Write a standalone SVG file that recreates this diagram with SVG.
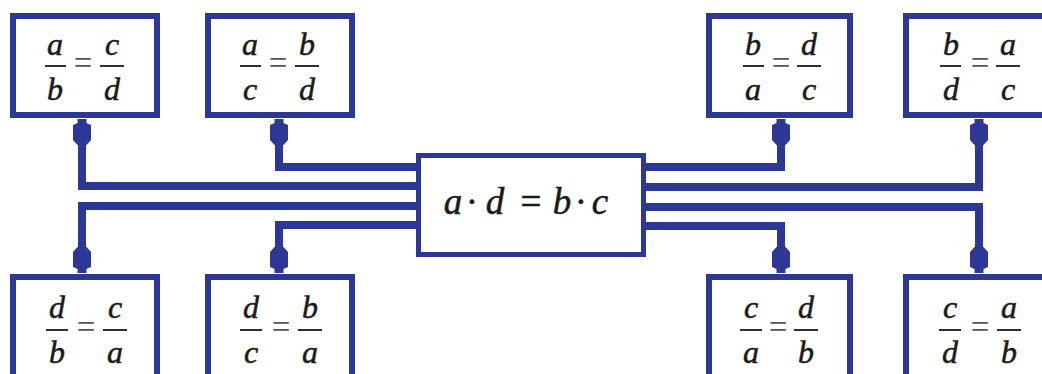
<svg xmlns="http://www.w3.org/2000/svg" width="1042" height="374" viewBox="0 0 1042 374">
<style>
.box{fill:#fff;stroke:#2d3894;stroke-width:6}
.cbox{fill:#fff;stroke:#2d3894;stroke-width:5}
.v{font-family:"Liberation Serif","Times New Roman",serif;font-style:italic;font-size:32px;fill:#1a1a1a;text-anchor:middle;stroke:#1a1a1a;stroke-width:0.5}
.eq{font-family:"Liberation Serif","Times New Roman",serif;font-size:33px;fill:#555;text-anchor:middle}
.bar{stroke:#1a1a1a;stroke-width:1.8}
.big{font-family:"Liberation Serif","Times New Roman",serif;font-style:italic;font-size:37px;fill:#1a1a1a;text-anchor:middle;stroke:#1a1a1a;stroke-width:0.5}
.dot{font-style:normal}
.conn{fill:none;stroke:#2d3894;stroke-width:8;stroke-linejoin:miter}
</style>
<defs>
<marker id="ah" viewBox="-30 -11 31 22" refX="0" refY="0" markerWidth="31" markerHeight="22" markerUnits="userSpaceOnUse" orient="auto">
<path d="M0,-4.5 L-4,-4.5 L-6,-9 L-21,-9 L-26,-4.5 L-26,4.5 L-21,9 L-6,9 L-4,4.5 L0,4.5 Z" fill="#2d3894"/>
</marker>
</defs>
<g id="connectors">
<path class="conn" d="M420,186 H82 V119" marker-end="url(#ah)"/>
<path class="conn" d="M420,167 H279 V119" marker-end="url(#ah)"/>
<path class="conn" d="M420,206 H82 V273" marker-end="url(#ah)"/>
<path class="conn" d="M420,225 H279 V273" marker-end="url(#ah)"/>
<path class="conn" d="M642,167 H781 V119" marker-end="url(#ah)"/>
<path class="conn" d="M642,187 H979 V119" marker-end="url(#ah)"/>
<path class="conn" d="M642,226 H781 V273" marker-end="url(#ah)"/>
<path class="conn" d="M642,207 H979 V273" marker-end="url(#ah)"/>
</g>
<g id="center">
<rect class="cbox" x="418.5" y="155.5" width="225" height="99"/>
<text class="big" y="214"><tspan x="453">a</tspan><tspan class="dot" x="472">·</tspan><tspan x="495">d</tspan><tspan class="dot" x="531">=</tspan><tspan x="562">b</tspan><tspan class="dot" x="581">·</tspan><tspan x="600">c</tspan></text>
</g>
<g id="n1">
<rect class="box" x="13" y="16" width="144" height="99"/>
<text class="v" x="55" y="55">a</text><line class="bar" x1="45" y1="66" x2="66" y2="66"/><text class="v" x="55" y="100">b</text>
<text class="eq" x="83" y="74">=</text>
<text class="v" x="112" y="55">c</text><line class="bar" x1="100" y1="66" x2="124" y2="66"/><text class="v" x="112" y="100">d</text>
</g>
<g id="n2">
<rect class="box" x="208" y="16" width="144" height="99"/>
<text class="v" x="250" y="55">a</text><line class="bar" x1="240" y1="66" x2="261" y2="66"/><text class="v" x="250" y="100">c</text>
<text class="eq" x="278" y="74">=</text>
<text class="v" x="307" y="55">b</text><line class="bar" x1="295" y1="66" x2="319" y2="66"/><text class="v" x="307" y="100">d</text>
</g>
<g id="n3">
<rect class="box" x="709" y="16" width="141" height="99"/>
<text class="v" x="753" y="55">b</text><line class="bar" x1="743" y1="66" x2="764" y2="66"/><text class="v" x="753" y="100">a</text>
<text class="eq" x="781" y="74">=</text>
<text class="v" x="809" y="55">d</text><line class="bar" x1="797" y1="66" x2="821" y2="66"/><text class="v" x="809" y="100">c</text>
</g>
<g id="n4">
<rect class="box" x="906" y="16" width="150" height="99"/>
<text class="v" x="951" y="55">b</text><line class="bar" x1="940" y1="66" x2="961" y2="66"/><text class="v" x="951" y="100">d</text>
<text class="eq" x="980" y="74">=</text>
<text class="v" x="1008" y="55">a</text><line class="bar" x1="996" y1="66" x2="1020" y2="66"/><text class="v" x="1008" y="100">c</text>
</g>
<g id="n5">
<rect class="box" x="13" y="277" width="144" height="120"/>
<text class="v" x="57" y="318">d</text><line class="bar" x1="46" y1="330" x2="68" y2="330"/><text class="v" x="57" y="363">b</text>
<text class="eq" x="86" y="338">=</text>
<text class="v" x="115" y="318">c</text><line class="bar" x1="103" y1="330" x2="127" y2="330"/><text class="v" x="115" y="363">a</text>
</g>
<g id="n6">
<rect class="box" x="208" y="277" width="144" height="120"/>
<text class="v" x="251" y="318">d</text><line class="bar" x1="240" y1="330" x2="262" y2="330"/><text class="v" x="251" y="363">c</text>
<text class="eq" x="281" y="338">=</text>
<text class="v" x="310" y="318">b</text><line class="bar" x1="298" y1="330" x2="322" y2="330"/><text class="v" x="310" y="363">a</text>
</g>
<g id="n7">
<rect class="box" x="709" y="277" width="141" height="120"/>
<text class="v" x="751" y="318">c</text><line class="bar" x1="740" y1="330" x2="762" y2="330"/><text class="v" x="751" y="363">a</text>
<text class="eq" x="778" y="338">=</text>
<text class="v" x="806" y="318">d</text><line class="bar" x1="794" y1="330" x2="818" y2="330"/><text class="v" x="806" y="363">b</text>
</g>
<g id="n8">
<rect class="box" x="906" y="277" width="150" height="120"/>
<text class="v" x="950" y="318">c</text><line class="bar" x1="939" y1="330" x2="961" y2="330"/><text class="v" x="950" y="363">d</text>
<text class="eq" x="980" y="338">=</text>
<text class="v" x="1009" y="318">a</text><line class="bar" x1="997" y1="330" x2="1021" y2="330"/><text class="v" x="1009" y="363">b</text>
</g>
</svg>
